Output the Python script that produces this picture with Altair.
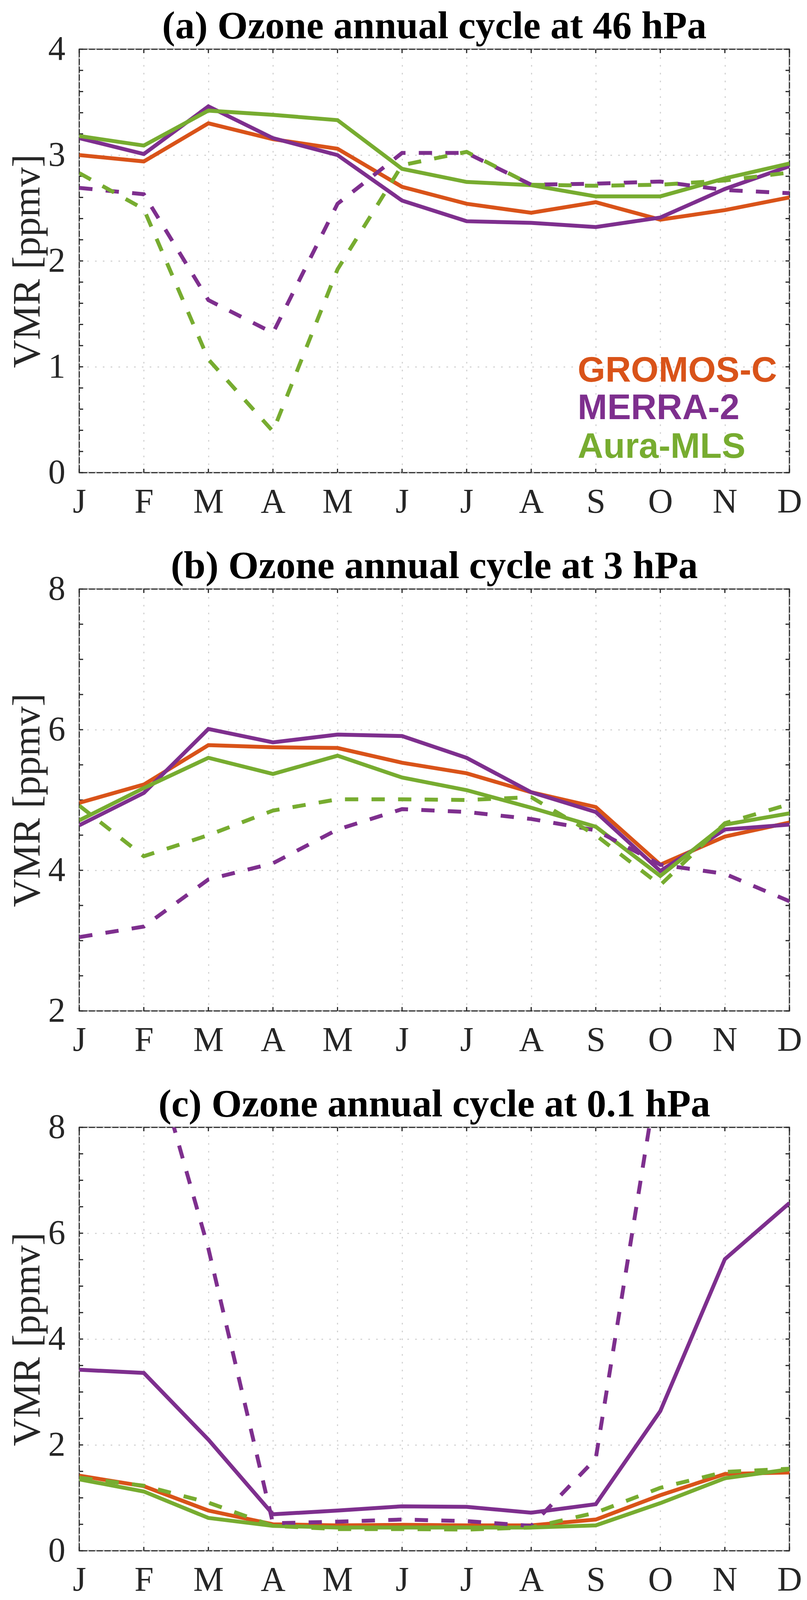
import json

import altair as alt
import pandas as pd

# --- axis categories ---
MONTHS = ["J", "F", "M", "A", "M", "J", "J", "A", "S", "O", "N", "D"]
MONTH_IDX = list(range(12))

# --- (a) 46 hPa ---
A_GROMOS = [3.00, 2.94, 3.30, 3.15, 3.06, 2.70, 2.54, 2.455, 2.555, 2.39, 2.48, 2.60]
A_MERRA = [3.16, 3.01, 3.46, 3.16, 3.00, 2.57, 2.375, 2.36, 2.32, 2.41, 2.68, 2.895]
A_MLS = [3.18, 3.09, 3.42, 3.38, 3.33, 2.87, 2.746, 2.716, 2.61, 2.61, 2.78, 2.92]
A_MERRA_D = [2.69, 2.63, 1.63, 1.32, 2.54, 3.02, 3.02, 2.72, 2.73, 2.75, 2.67, 2.64]
A_MLS_D = [2.83, 2.49, 1.07, 0.39, 1.92, 2.905, 3.03, 2.72, 2.71, 2.72, 2.76, 2.835]

# --- (b) 3 hPa ---
B_GROMOS = [4.96, 5.22, 5.78, 5.75, 5.74, 5.53, 5.38, 5.11, 4.90, 4.08, 4.48, 4.68]
B_MERRA = [4.64, 5.10, 6.01, 5.82, 5.93, 5.91, 5.60, 5.11, 4.83, 3.99, 4.58, 4.65]
B_MLS = [4.71, 5.17, 5.60, 5.37, 5.63, 5.32, 5.14, 4.89, 4.62, 3.92, 4.65, 4.81]
B_MERRA_D = [3.05, 3.20, 3.87, 4.10, 4.58, 4.87, 4.83, 4.73, 4.57, 4.08, 3.95, 3.56]
B_MLS_D = [4.92, 4.20, 4.50, 4.85, 5.01, 5.01, 5.00, 5.04, 4.50, 3.79, 4.67, 4.94]

# --- (c) 0.1 hPa (MERRA-2 dashed leaves the axis in winter) ---
C_GROMOS = [1.42, 1.22, 0.76, 0.50, 0.48, 0.49, 0.48, 0.48, 0.59, 1.05, 1.45, 1.48]
C_MERRA = [3.42, 3.36, 2.10, 0.69, 0.76, 0.84, 0.83, 0.72, 0.88, 2.64, 5.51, 6.57]
C_MLS = [1.35, 1.12, 0.62, 0.47, 0.44, 0.44, 0.44, 0.44, 0.48, 0.90, 1.37, 1.54]
C_MERRA_D = [11.0, 10.0, 5.71, 0.52, 0.55, 0.59, 0.56, 0.47, 1.74, 9.3, 11.0, 11.5]
C_MLS_D = [1.38, 1.23, 0.91, 0.47, 0.41, 0.41, 0.40, 0.44, 0.72, 1.19, 1.49, 1.55]

# --- legend text (panel a) ---
LEGEND_NAMES = ["GROMOS-C", "MERRA-2", "Aura-MLS"]
LEGEND_X = [7.72, 7.72, 7.72]
LEGEND_Y = [0.86, 0.505, 0.14]

ORANGE = "#D95319"
PURPLE = "#7E2F8E"
GREEN = "#77AC30"
AXIS = "#262626"
SERIF = "Liberation Serif"
SANS = "Liberation Sans"

W = 1819
TICK = 10
DASH = [34, 34]
LABEL_EXPR = json.dumps(MONTHS) + "[datum.value]"


def panel(title, data, ydomain, ymajor, yminor, height, legend=False):
    xsc = alt.Scale(domain=[0, 11], nice=False)
    ysc = alt.Scale(domain=ydomain, nice=False, zero=False)
    xax = alt.Axis(values=MONTH_IDX, labelExpr=LABEL_EXPR, grid=True, ticks=False,
                   domain=False, title=None, labelPadding=31, labelFlush=False)
    yax = alt.Axis(values=ymajor, grid=True, ticks=False, domain=False, format="d",
                   title="VMR [ppmv]", labelPadding=36, titlePadding=2, labelFlush=False)
    x_enc = alt.X("month:Q", scale=xsc, axis=xax)
    y_enc = alt.Y("value:Q", scale=ysc, axis=yax)

    layers = []
    # inward ticks, like the MATLAB box
    ydf = pd.DataFrame({"value": yminor})
    for x1, x2 in [(0, TICK), (W - TICK, W)]:
        layers.append(alt.Chart(ydf).mark_rule(color=AXIS, strokeWidth=3).encode(
            y=y_enc, x=alt.value(x1), x2=alt.value(x2)))
    xdf = pd.DataFrame({"month": MONTH_IDX})
    for y1, y2 in [(0, TICK), (height - TICK, height)]:
        layers.append(alt.Chart(xdf).mark_rule(color=AXIS, strokeWidth=3).encode(
            x=x_enc, y=alt.value(y1), y2=alt.value(y2)))

    for vals, color, dashed in data:
        df = pd.DataFrame({"month": MONTH_IDX, "value": vals})
        opts = dict(color=color, strokeWidth=10, clip=True, strokeJoin="miter")
        if dashed:
            opts["strokeDash"] = DASH
        layers.append(alt.Chart(df).mark_line(**opts).encode(x=x_enc, y=y_enc))

    if legend:
        ldf = pd.DataFrame({"month": LEGEND_X, "value": LEGEND_Y, "name": LEGEND_NAMES,
                            "col": [ORANGE, PURPLE, GREEN]})
        layers.append(alt.Chart(ldf).mark_text(
            align="left", baseline="alphabetic", font=SANS, fontWeight="bold", fontSize=91
        ).encode(x=x_enc, y=y_enc, text="name:N", color=alt.Color("col:N", scale=None)))

    return alt.layer(*layers).properties(
        width=W, height=height,
        title=alt.TitleParams(text=title, font=SERIF, fontSize=100, fontWeight="bold",
                              color="black", anchor="middle", offset=-37),
    )


pa = panel("(a) Ozone annual cycle at 46 hPa",
           [(A_GROMOS, ORANGE, False), (A_MERRA, PURPLE, False), (A_MLS, GREEN, False),
            (A_MERRA_D, PURPLE, True), (A_MLS_D, GREEN, True)],
           [0, 4], [0, 1, 2, 3, 4], [round(i * 0.2, 1) for i in range(21)], 1084, legend=True)
pb = panel("(b) Ozone annual cycle at 3 hPa",
           [(B_GROMOS, ORANGE, False), (B_MERRA, PURPLE, False), (B_MLS, GREEN, False),
            (B_MERRA_D, PURPLE, True), (B_MLS_D, GREEN, True)],
           [2, 8], [2, 4, 6, 8], [2 + i * 0.5 for i in range(13)], 1080)
pc = panel("(c) Ozone annual cycle at 0.1 hPa",
           [(C_GROMOS, ORANGE, False), (C_MERRA, PURPLE, False), (C_MLS, GREEN, False),
            (C_MERRA_D, PURPLE, True), (C_MLS_D, GREEN, True)],
           [0, 8], [0, 2, 4, 6, 8], [i * 0.5 for i in range(17)], 1084)

chart = alt.VConcatChart(vconcat=[pa, pb, pc], spacing=298, bounds="flush").configure_view(
    stroke=AXIS, strokeWidth=3
).configure_axis(
    labelFont=SERIF, labelFontSize=88, labelColor=AXIS,
    titleFont=SERIF, titleFontSize=100, titleFontWeight="normal", titleColor=AXIS,
    gridColor="#d2d2d2", gridWidth=3, gridDash=[4, 16],
).properties(padding={"left": 10, "top": 8, "right": 0, "bottom": 10}, background="white")

chart.save("out.html", embed_options={"renderer": "svg", "actions": False})
